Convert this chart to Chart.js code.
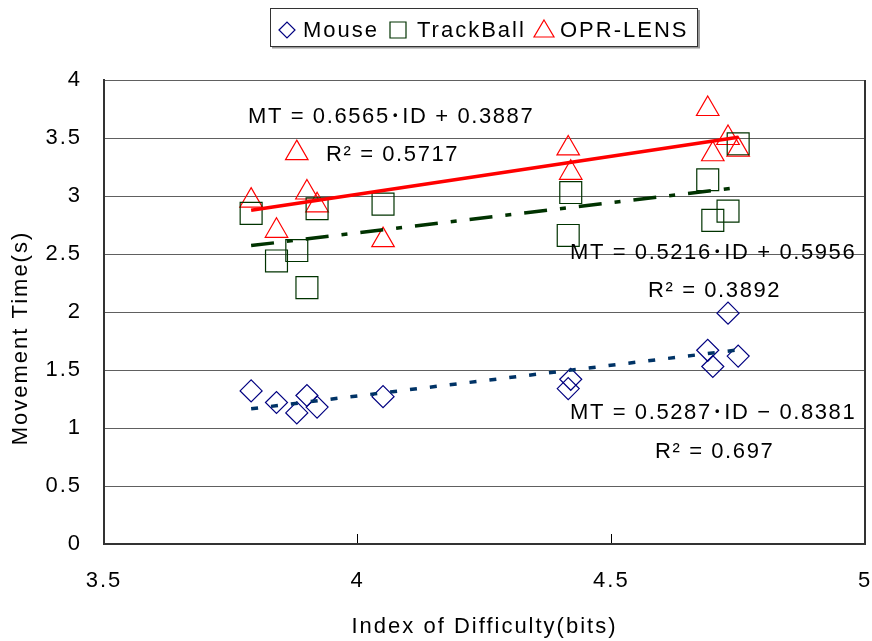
<!DOCTYPE html>
<html>
<head>
<meta charset="utf-8">
<script src="https://cdn.jsdelivr.net/npm/chart.js@4/dist/chart.umd.min.js"></script>
<style>
  body { margin: 0; background: #fff; }
  canvas { display: block; }
</style>
</head>
<body>
<canvas id="chart" width="872" height="641"></canvas>
<script>
// index of difficulty (bits) for each trial condition
const ids = [3.79, 3.84, 3.88, 3.90, 3.92, 4.05, 4.42, 4.415, 4.69, 4.70, 4.73, 4.75];
// movement time (s) per device
const mouseMT = [1.32, 1.22, 1.13, 1.28, 1.18, 1.27, 1.42, 1.34, 1.67, 1.53, 1.99, 1.62];
const trackballMT = [2.85, 2.44, 2.53, 2.21, 2.89, 2.93, 3.03, 2.66, 3.14, 2.79, 2.87, 3.45];
const lensMT = [2.96, 2.70, 3.37, 3.03, 2.92, 2.62, 3.20, 3.41, 3.75, 3.36, 3.50, 3.40];

const seriesNames = ["Mouse", "TrackBall", "OPR-LENS"];
// linear trendlines as printed on the chart
const trendSlope = [0.5287, 0.5216, 0.6565];
const trendIntercept = [-0.8381, 0.5956, 0.3887];
const trendR2 = ["0.697", "0.3892", "0.5717"];

const xTicks = [3.5, 4, 4.5, 5];
const yTicks = [0, 0.5, 1, 1.5, 2, 2.5, 3, 3.5, 4];

const FONT = "'Liberation Sans', Arial, 'Noto Sans CJK JP', sans-serif";
const colors = ["#000080", "#003300", "#ff0000"];
const styles = ["rectRot", "rect", "triangle"];
const radii = [11, 15.5, 13];
const dashes = [[7, 13], [23, 13, 6, 13], []];

const seriesValues = [mouseMT, trackballMT, lensMT];
const toPoints = vals => ids.map((x, i) => ({x: x, y: vals[i]}));

const minId = Math.min(...ids), maxId = Math.max(...ids);
const trendData = trendSlope.map((m, k) => [
    {x: minId, y: m * minId + trendIntercept[k]},
    {x: maxId, y: m * maxId + trendIntercept[k]}
]);

const datasets = [];
seriesNames.forEach((name, k) => {
    datasets.push({
        label: name + " trend",
        data: trendData[k],
        showLine: true,
        borderColor: k == 1 ? "#003300" : (k == 0 ? "#003366" : "#ff0000"),
        borderWidth: 3.5,
        borderDash: dashes[k],
        pointRadius: 0,
        fill: false,
        order: 0
    });
});
seriesNames.forEach((name, k) => {
    datasets.push({
        label: name,
        data: toPoints(seriesValues[k]),
        pointStyle: styles[k],
        pointRadius: radii[k],
        pointBorderColor: colors[k],
        pointBackgroundColor: "rgba(0,0,0,0)",
        pointBorderWidth: 1.2,
        showLine: false,
        order: 1
    });
});

// equation labels (left x, middle y in px)
const notes = [
    {t: "MT = " + trendSlope[2] + "･ID + " + trendIntercept[2], x: 248, y: 117},
    {t: "R² = " + trendR2[2], x: 326, y: 155},
    {t: "MT = " + trendSlope[1] + "･ID + " + trendIntercept[1], x: 570, y: 253},
    {t: "R² = " + trendR2[1], x: 648, y: 291},
    {t: "MT = " + trendSlope[0] + "･ID − " + Math.abs(trendIntercept[0]), x: 570, y: 413},
    {t: "R² = " + trendR2[0], x: 655, y: 452}
];

const extras = {
    id: "extras",
    beforeDraw(chart) {
        const ctx = chart.ctx;
        ctx.fillStyle = "#fff";
        ctx.fillRect(0, 0, chart.width, chart.height);
        ctx.letterSpacing = "2px";
    },
    beforeDatasetsDraw(chart) {
        const ctx = chart.ctx, a = chart.chartArea;
        ctx.save();
        ctx.strokeStyle = "#333";
        ctx.lineWidth = 2;
        ctx.beginPath();
        ctx.moveTo(a.right, a.top);
        ctx.lineTo(a.right, a.bottom);
        ctx.stroke();
        ctx.restore();
    },
    afterDraw(chart) {
        const ctx = chart.ctx;
        ctx.save();
        ctx.fillStyle = "#000";
        ctx.font = "22px " + FONT;
        ctx.textBaseline = "middle";
        ctx.textAlign = "left";
        ctx.letterSpacing = "1.6px";
        notes.forEach(n => ctx.fillText(n.t, n.x, n.y));
        ctx.letterSpacing = "2px";

        // y axis title
        ctx.save();
        ctx.translate(21, 338);
        ctx.rotate(-Math.PI / 2);
        ctx.textAlign = "center";
        ctx.fillText("Movement Time(s)", 0, 0);
        ctx.restore();

        // legend
        ctx.fillStyle = "#fff";
        ctx.fillRect(270, 8, 428, 39);
        ctx.strokeStyle = "#9a9a9a";
        ctx.lineWidth = 2;
        ctx.beginPath();
        ctx.moveTo(272, 47.5); ctx.lineTo(699, 47.5); ctx.lineTo(699, 10);
        ctx.stroke();
        ctx.strokeStyle = "#333";
        ctx.lineWidth = 1;
        ctx.strokeRect(270.5, 8.5, 427, 38);

        const lx = [287, 398, 544], tx = [303, 417, 560], ly = 30;
        ctx.lineWidth = 1.2;
        seriesNames.forEach((name, k) => {
            ctx.strokeStyle = colors[k];
            ctx.beginPath();
            const c = lx[k];
            if (k == 0) {
                ctx.moveTo(c - 8, ly); ctx.lineTo(c, ly - 8); ctx.lineTo(c + 8, ly); ctx.lineTo(c, ly + 8);
            } else if (k == 1) {
                ctx.rect(c - 8, ly - 8, 16, 16);
            } else {
                ctx.moveTo(c, ly - 10); ctx.lineTo(c + 10, ly + 7); ctx.lineTo(c - 10, ly + 7);
            }
            ctx.closePath();
            ctx.stroke();
            ctx.fillStyle = "#000";
            ctx.fillText(name, tx[k], ly + 1);
        });
        ctx.restore();
    }
};

new Chart(document.getElementById("chart"), {
    type: "scatter",
    data: {datasets: datasets},
    plugins: [extras],
    options: {
        responsive: false,
        animation: false,
        devicePixelRatio: 1,
        layout: {autoPadding: false, padding: {top: 80, left: 0, right: 7, bottom: 0}},
        plugins: {
            legend: {display: false},
            tooltip: {enabled: false}
        },
        scales: {
            x: {
                type: "linear",
                min: 3.5,
                max: 5,
                afterBuildTicks: s => { s.ticks = xTicks.map(v => ({value: v})); },
                afterFit: s => { s.height = 97; s.paddingLeft = 0; s.paddingRight = 0; },
                ticks: {color: "#000", font: {size: 22, family: FONT}, padding: 34, maxRotation: 0,
                        callback: v => String(v)},
                grid: {drawOnChartArea: false, tickLength: -10, color: "#000", lineWidth: 1},
                border: {color: "#333", width: 2},
                title: {
                    display: true,
                    text: "Index of Difficulty(bits)",
                    color: "#000",
                    font: {size: 22, family: FONT},
                    padding: {top: 0, bottom: 1}
                }
            },
            y: {
                min: 0,
                max: 4,
                afterBuildTicks: s => { s.ticks = yTicks.map(v => ({value: v})); },
                afterFit: s => { s.width = 104; s.paddingTop = 0; s.paddingBottom = 0; },
                ticks: {color: "#000", font: {size: 22, family: FONT}, padding: 22,
                        callback: v => String(v)},
                grid: {color: "#606060", lineWidth: 1, drawTicks: false},
                border: {color: "#333", width: 2}
            }
        }
    }
});
</script>
</body>
</html>
